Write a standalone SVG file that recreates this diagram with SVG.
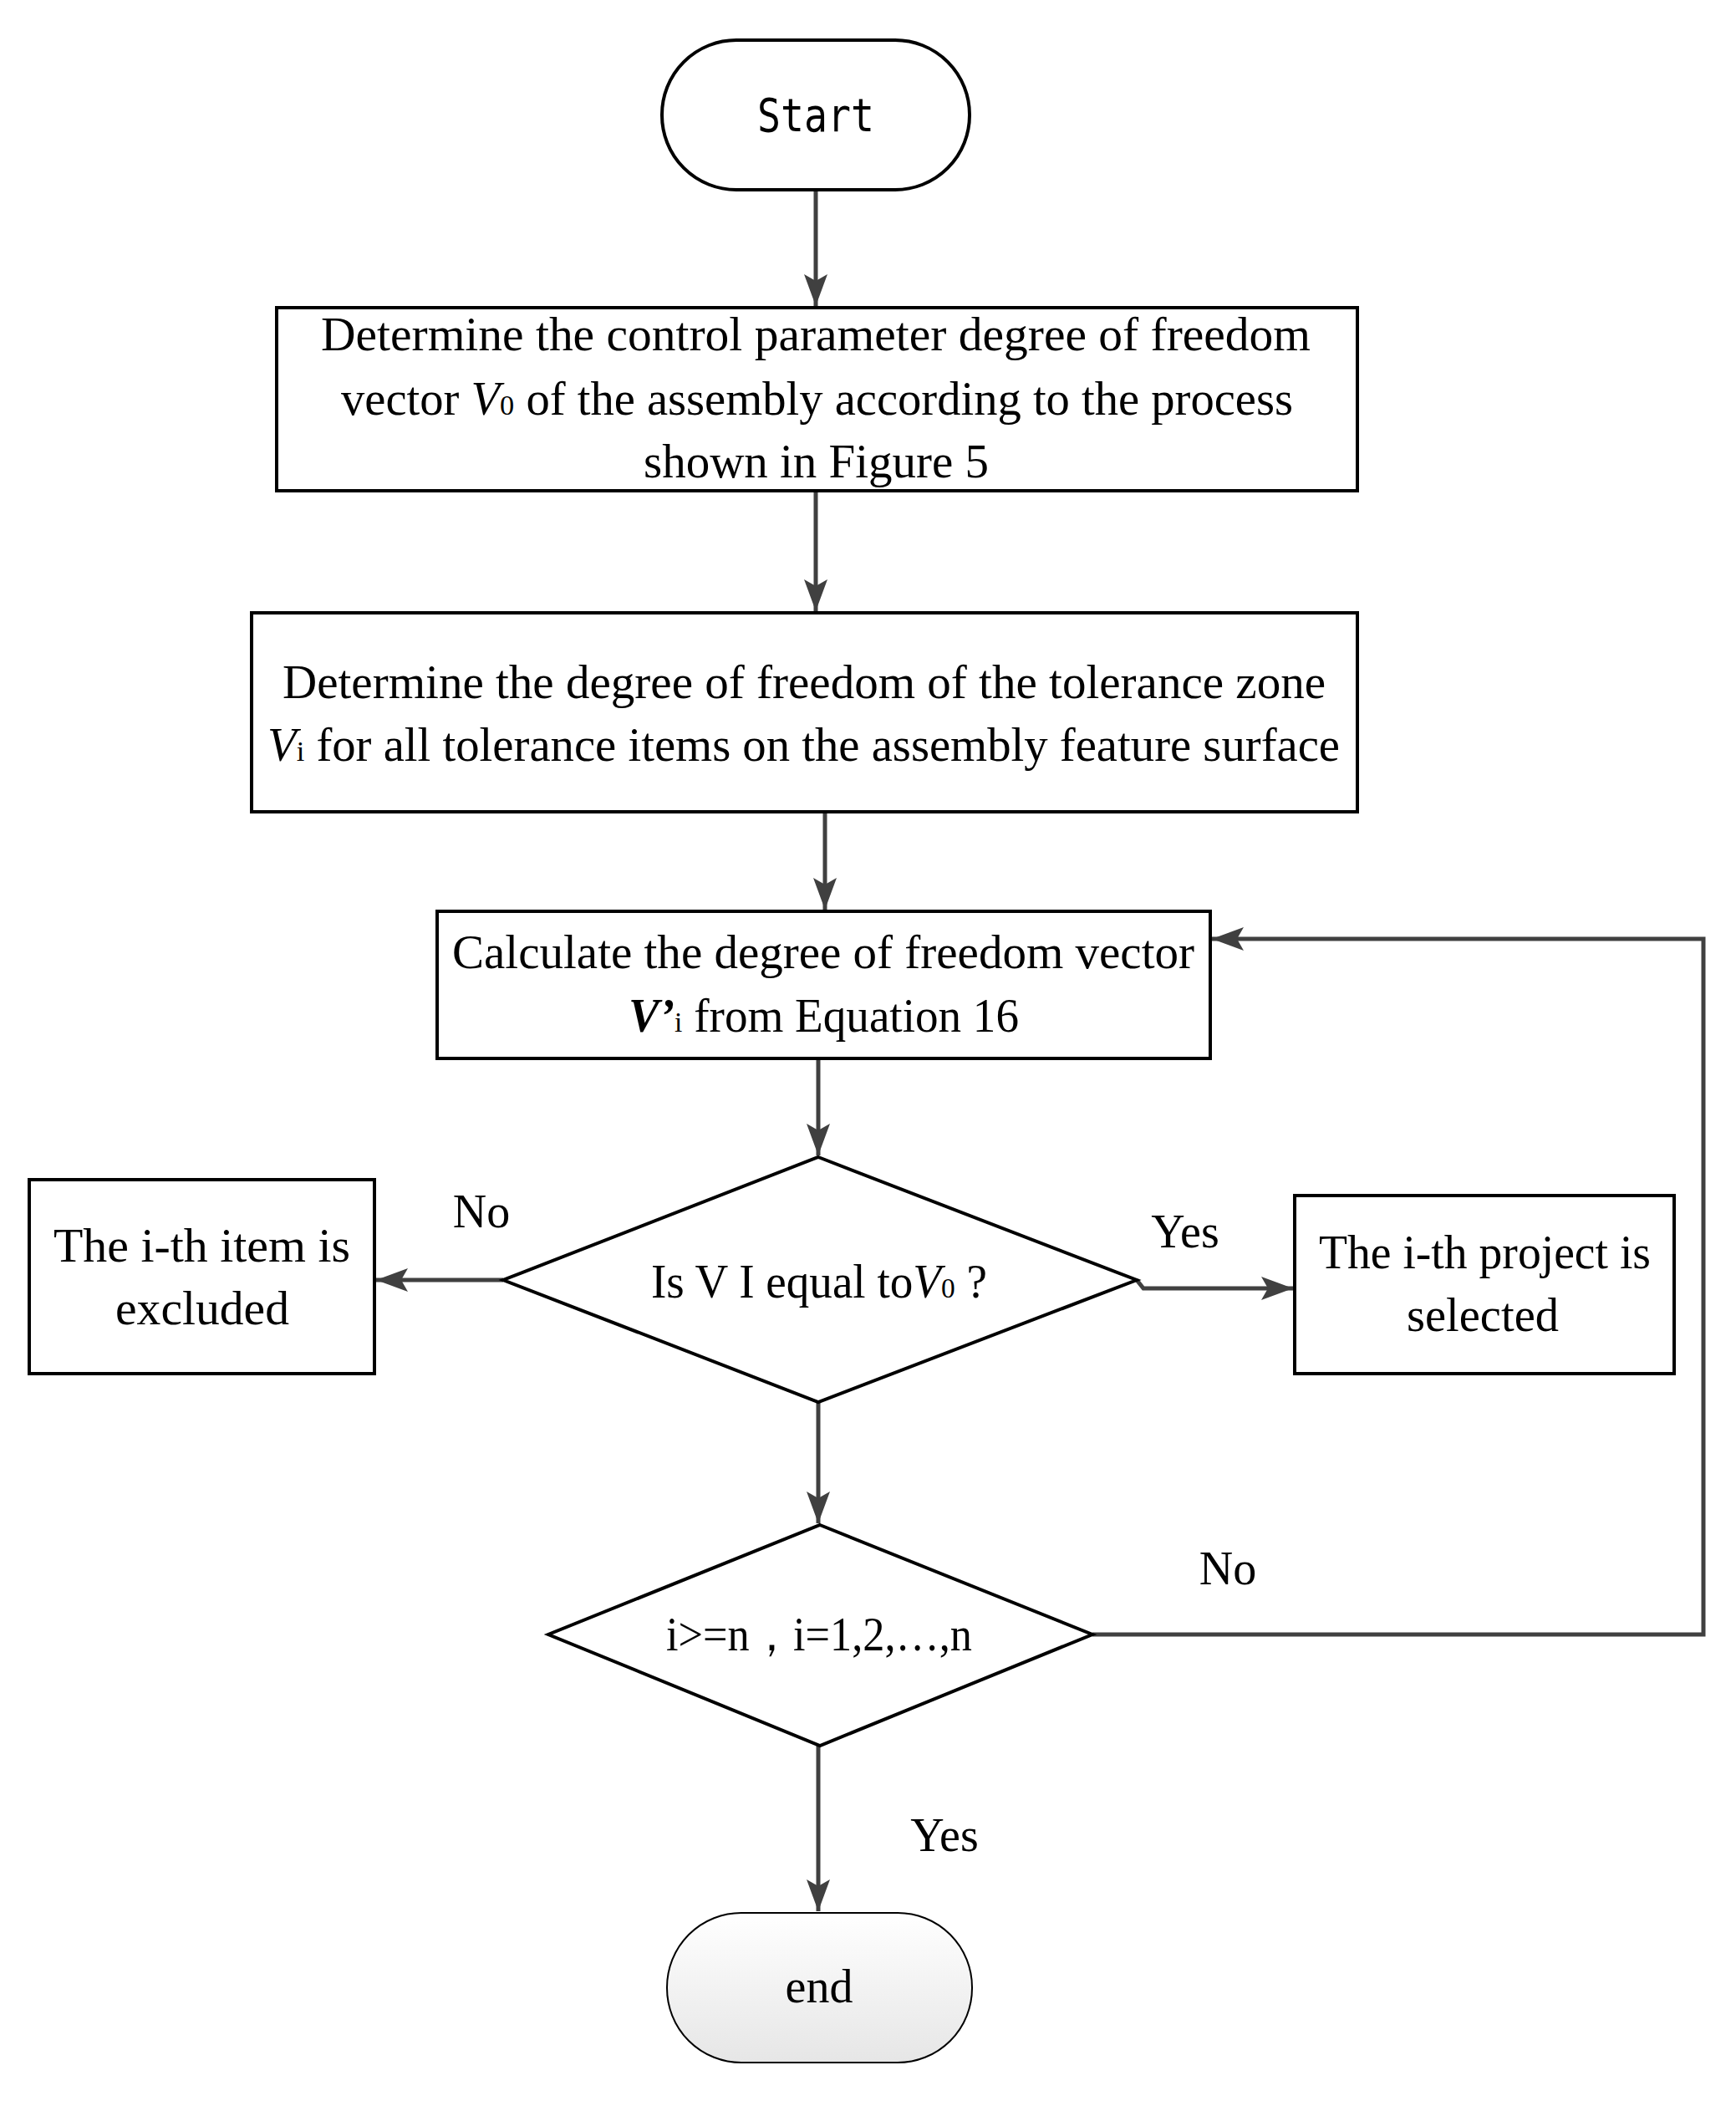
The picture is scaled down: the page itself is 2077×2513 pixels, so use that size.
<svg xmlns="http://www.w3.org/2000/svg" width="2077" height="2513" viewBox="0 0 2077 2513">
<style>
.n{fill:#fff;stroke:#000;stroke-width:4}
.t{font-family:"Liberation Serif",serif;font-size:56px;fill:#000}
.c{fill:none;stroke:#404040;stroke-width:5}
.s{font-size:34px;font-style:normal}
</style>
<defs>
<marker id="a" markerWidth="12" markerHeight="12" refX="11" refY="6" orient="auto" markerUnits="userSpaceOnUse" viewBox="0 0 12 12"><path d="M0,0 L12,6 L0,12 L3,6 Z" fill="#404040"/></marker>
<marker id="b" markerWidth="40" markerHeight="40" refX="38" refY="20" orient="auto" markerUnits="userSpaceOnUse"><path d="M0,6 L38,20 L0,34 L8,20 Z" fill="#404040"/></marker>
<linearGradient id="g" x1="0" y1="0" x2="0" y2="1"><stop offset="0" stop-color="#fff"/><stop offset="1" stop-color="#e6e6e6"/></linearGradient>
</defs>
<rect width="2077" height="2513" fill="#fff"/>
<g id="connectors">
<path class="c" d="M976,227 V366" marker-end="url(#b)"/>
<path class="c" d="M976,587 V731" marker-end="url(#b)"/>
<path class="c" d="M987,971 V1088" marker-end="url(#b)"/>
<path class="c" d="M979,1266 V1382" marker-end="url(#b)"/>
<path class="c" d="M602,1531 H450" marker-end="url(#b)"/>
<path class="c" d="M1360,1531 L1368,1541 H1547" marker-end="url(#b)"/>
<path class="c" d="M979,1677 V1822" marker-end="url(#b)"/>
<path class="c" d="M1307,1955 H2038 V1123 H1450" marker-end="url(#b)"/>
<path class="c" d="M979,2088 V2286" marker-end="url(#b)"/>
<text class="t" x="576" y="1468" text-anchor="middle" font-size="66">No</text>
<text class="t" x="1418" y="1492" text-anchor="middle" font-size="66">Yes</text>
<text class="t" x="1469" y="1895" text-anchor="middle" font-size="66">No</text>
<text class="t" x="1130" y="2214" text-anchor="middle" font-size="66">Yes</text>
</g>
<g id="start"><rect class="n" x="792" y="48" width="368" height="179" rx="89"/>
<text x="976" y="157" text-anchor="middle" font-family="DejaVu Sans Mono,monospace" font-size="56" textLength="140" lengthAdjust="spacingAndGlyphs">Start</text></g>
<g id="box1"><rect class="n" x="331" y="368" width="1293" height="219"/>
<text class="t" x="384" y="419" textLength="1184" lengthAdjust="spacingAndGlyphs">Determine the control parameter degree of freedom</text>
<text class="t" x="408" y="496" textLength="1139" lengthAdjust="spacingAndGlyphs">vector <tspan font-style="italic">V</tspan><tspan class="s">0</tspan> of the assembly according to the process</text>
<text class="t" x="770" y="571" textLength="413" lengthAdjust="spacingAndGlyphs">shown in Figure 5</text></g>
<g id="box2"><rect class="n" x="301" y="733" width="1323" height="238"/>
<text class="t" x="338" y="835" textLength="1248" lengthAdjust="spacingAndGlyphs">Determine the degree of freedom of the tolerance zone</text>
<text class="t" x="320" y="910" textLength="1283" lengthAdjust="spacingAndGlyphs"><tspan font-style="italic">V</tspan><tspan class="s">i</tspan> for all tolerance items on the assembly feature surface</text></g>
<g id="box3"><rect class="n" x="523" y="1090" width="925" height="176"/>
<text class="t" x="541" y="1158" textLength="888" lengthAdjust="spacingAndGlyphs">Calculate the degree of freedom vector</text>
<text class="t" x="752" y="1234" textLength="467" lengthAdjust="spacingAndGlyphs"><tspan font-style="italic" font-weight="bold">V’</tspan><tspan class="s">i</tspan> from Equation 16</text></g>
<g id="d1"><path class="n" d="M979,1384 L1360,1531 L979,1677 L602,1531 Z"/>
<text class="t" x="779" y="1552" textLength="402" lengthAdjust="spacingAndGlyphs">Is V I equal to<tspan font-style="italic">V</tspan><tspan class="s">0</tspan> ?</text></g>
<g id="left"><rect class="n" x="35" y="1411" width="413" height="232"/>
<text class="t" x="64" y="1509" textLength="355" lengthAdjust="spacingAndGlyphs">The i-th  item is</text>
<text class="t" x="138" y="1584" textLength="208" lengthAdjust="spacingAndGlyphs">excluded</text></g>
<g id="right"><rect class="n" x="1549" y="1430" width="454" height="213"/>
<text class="t" x="1578" y="1517" textLength="397" lengthAdjust="spacingAndGlyphs">The i-th project is</text>
<text class="t" x="1683" y="1592" textLength="182" lengthAdjust="spacingAndGlyphs">selected</text></g>
<g id="d2"><path class="n" d="M981,1824 L1307,1955 L981,2088 L656,1955 Z"/>
<text class="t" x="797" y="1974" textLength="366" lengthAdjust="spacingAndGlyphs">i&gt;=n，i=1,2,…,n</text></g>
<g id="end"><rect x="798" y="2288" width="365" height="179" rx="89" fill="url(#g)" stroke="#000" stroke-width="2"/>
<text class="t" x="980" y="2395" text-anchor="middle" font-size="62">end</text></g>
</svg>
